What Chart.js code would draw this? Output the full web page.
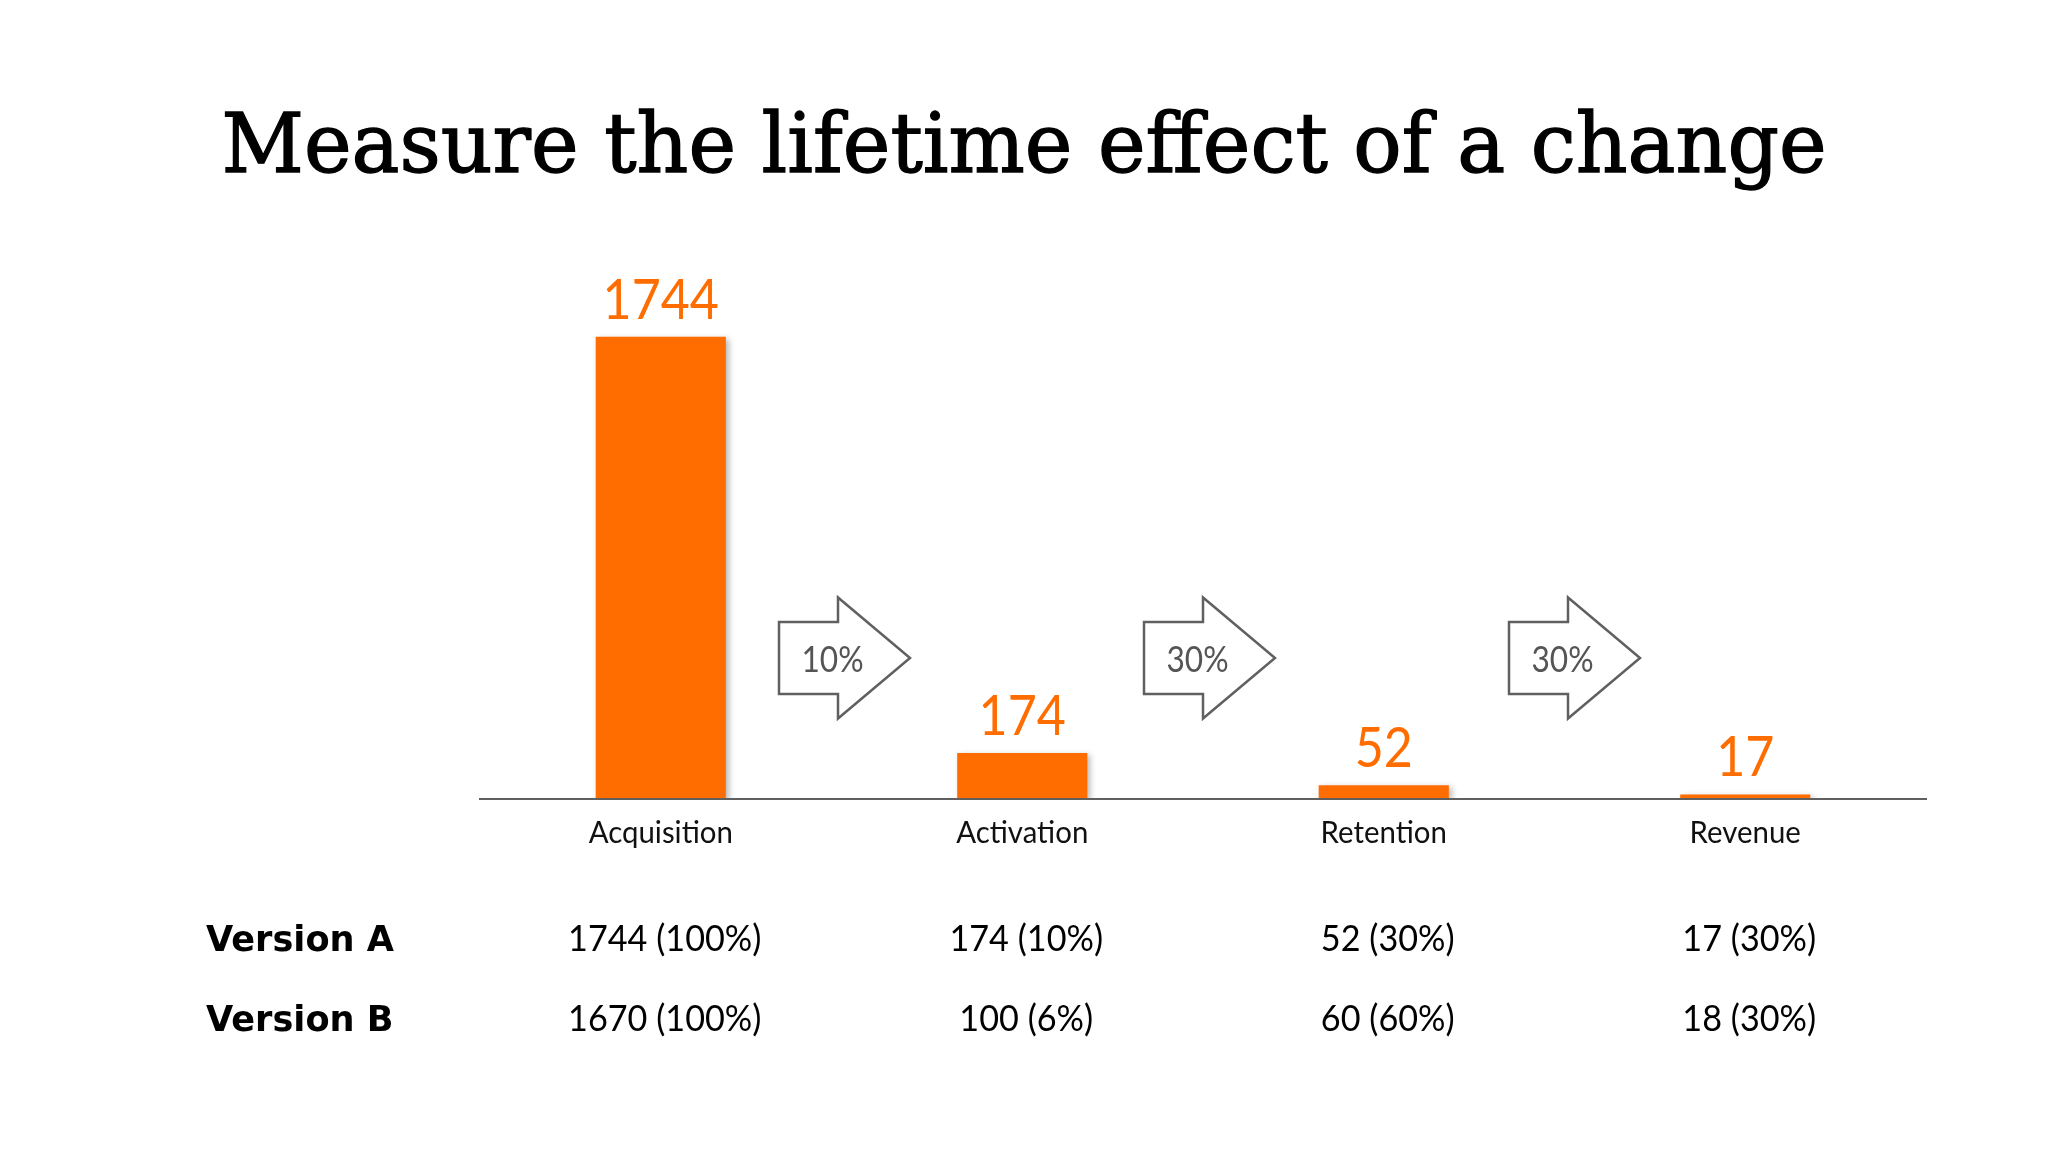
<!DOCTYPE html>
<html>
<head>
<meta charset="utf-8">
<script src="https://cdn.jsdelivr.net/npm/chart.js@4.4.1/dist/chart.umd.min.js"></script>
<style>
  html, body { margin: 0; padding: 0; background: #fff; overflow: hidden; }
  canvas { display: block; }
</style>
</head>
<body>
<canvas id="funnelChart" width="2048" height="1152"></canvas>
<script>
const chartTitle = 'Measure the lifetime effect of a change';
const stages = ['Acquisition', 'Activation', 'Retention', 'Revenue'];
const usersA = [1744, 174, 52, 17];
const stepRates = ['10%', '30%', '30%'];
const rowNames = ['Version A', 'Version B'];
const rowA = ['1744 (100%)', '174 (10%)', '52 (30%)', '17 (30%)'];
const rowB = ['1670 (100%)', '100 (6%)', '60 (60%)', '18 (30%)'];
const yMax = 2000;

const ORANGE = '#ff6c00';
const GREY = '#606060';

// soft drop shadow under the bars, like the slide
const barShadow = {
    id: 'barShadow',
    beforeDatasetsDraw(chart) {
        const ctx = chart.ctx;
        ctx.save();
        ctx.shadowColor = 'rgba(0,0,0,0.28)';
        ctx.shadowBlur = 6;
        ctx.shadowOffsetX = 3;
        ctx.shadowOffsetY = 2;
    },
    afterDatasetsDraw(chart) { chart.ctx.restore(); }
};

// Gill Sans is narrower than what we have, so squeeze the text a bit
function fillTextX(ctx, text, x, y, sx, stroke) {
    ctx.save();
    ctx.translate(x, y);
    ctx.scale(sx, 1);
    ctx.fillText(text, 0, 0);
    if (stroke) {
        ctx.lineWidth = stroke;
        ctx.strokeStyle = ctx.fillStyle;
        ctx.strokeText(text, 0, 0);
    }
    ctx.restore();
}

function drawArrow(ctx, cx, cy, label) {
    const w = 131, tailW = 59, tailH = 36, headH = 60.5;
    const left = cx - w / 2;
    ctx.beginPath();
    ctx.moveTo(left, cy - tailH);
    ctx.lineTo(left + tailW, cy - tailH);
    ctx.lineTo(left + tailW, cy - headH);
    ctx.lineTo(left + w, cy);
    ctx.lineTo(left + tailW, cy + headH);
    ctx.lineTo(left + tailW, cy + tailH);
    ctx.lineTo(left, cy + tailH);
    ctx.closePath();
    ctx.fillStyle = '#fff';
    ctx.fill();
    ctx.lineWidth = 2.5;
    ctx.strokeStyle = GREY;
    ctx.stroke();
    ctx.fillStyle = '#555';
    ctx.font = '36px Lato';
    ctx.textAlign = 'center';
    ctx.textBaseline = 'middle';
    fillTextX(ctx, label, cx - 12, cy + 2, 0.88);
}

const funnelDecor = {
    id: 'funnelDecor',
    afterDraw(chart) {
        const ctx = chart.ctx;
        const area = chart.chartArea;
        const bars = chart.getDatasetMeta(0).data;
        ctx.save();

        // title, fitted to the slide width
        ctx.font = '82px "DejaVu Serif"';
        const tw = ctx.measureText(chartTitle).width;
        ctx.fillStyle = '#000';
        ctx.textAlign = 'center';
        ctx.textBaseline = 'alphabetic';
        fillTextX(ctx, chartTitle, chart.width / 2, 172, 1605 / tw, 1.3);

        // values on top of the bars
        ctx.fillStyle = ORANGE;
        ctx.font = '57px Lato';
        bars.forEach((b, i) => fillTextX(ctx, String(usersA[i]), b.x, b.y - 18, 0.88));

        // stage names under the axis
        ctx.fillStyle = '#111';
        ctx.font = '30px Lato';
        bars.forEach((b, i) => fillTextX(ctx, stages[i], b.x, area.bottom + 44, 0.98));

        // conversion arrows between the stages (slide has them drifting right a little)
        stepRates.forEach((r, i) => {
            const cx = (bars[i].x + bars[i + 1].x) / 2 + 3 + i * 3.5;
            drawArrow(ctx, cx, area.bottom - 141, r);
        });

        // comparison table
        ctx.textBaseline = 'alphabetic';
        [rowA, rowB].forEach((row, r) => {
            const y = area.bottom + 152 + r * 80;
            ctx.fillStyle = '#000';
            ctx.textAlign = 'left';
            ctx.font = 'bold 35px "DejaVu Sans"';
            const nw = ctx.measureText(rowNames[0]).width;
            fillTextX(ctx, rowNames[r], 206, y, 188 / nw);
            ctx.textAlign = 'center';
            ctx.font = '36px Lato';
            row.forEach((t, i) => fillTextX(ctx, t, bars[i].x + 4, y, 0.95));
        });

        ctx.restore();
    }
};

new Chart(document.getElementById('funnelChart'), {
    type: 'bar',
    data: {
        labels: stages,
        datasets: [{
            data: usersA,
            backgroundColor: ORANGE,
            borderWidth: 0,
            categoryPercentage: 1,
            barPercentage: 0.36
        }]
    },
    options: {
        responsive: false,
        animation: false,
        devicePixelRatio: 1,
        layout: { padding: { left: 480, right: 122, top: 269, bottom: 353 } },
        plugins: { legend: { display: false }, tooltip: { enabled: false }, title: { display: false } },
        scales: {
            x: {
                grid: { display: false, drawTicks: false },
                ticks: { display: false },
                border: { display: true, color: GREY, width: 2, z: 1 },
                afterFit: s => { s.height = 0; }
            },
            y: { display: false, min: 0, max: yMax }
        }
    },
    plugins: [barShadow, funnelDecor]
});
</script>
</body>
</html>
